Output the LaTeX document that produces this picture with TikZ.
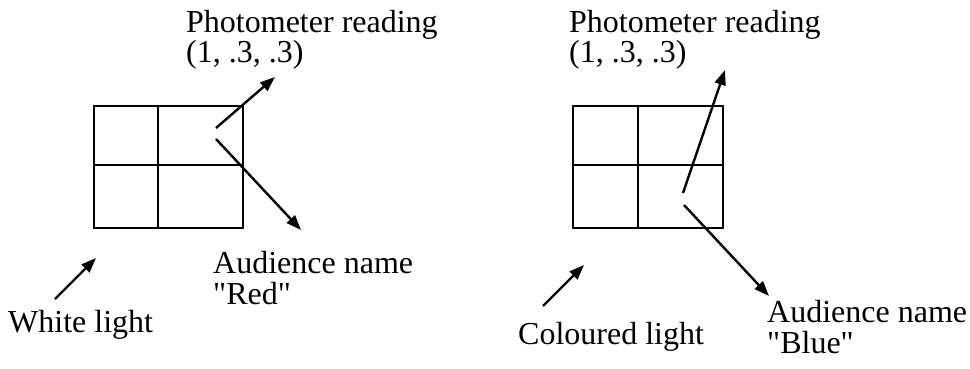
\documentclass[tikz,border=0pt]{standalone}
\usepackage{fontspec}
\setmainfont{Liberation Serif}[Ligatures=TeXOff]
\usetikzlibrary{arrows.meta}
\begin{document}
\begin{tikzpicture}[x=1pt,y=-1pt,
  lbl/.style={anchor=base west,inner sep=0pt,font=\fontsize{32pt}{32pt}\selectfont},
  grid/.style={line width=2.4pt},
  arr/.style={line width=2.4pt,-{Triangle[length=15pt,width=11pt]}}]
\useasboundingbox (0,0) rectangle (970,369);
% left grid
\draw[grid] (94,106) rectangle (243,228);
\draw[grid] (158,106) -- (158,228);
\draw[grid] (94,165) -- (243,165);
% right grid
\draw[grid] (573,106) rectangle (723,228);
\draw[grid] (638,106) -- (638,228);
\draw[grid] (573,165) -- (723,165);
% labels
\node[lbl] (pl1) at (186,33) {Photometer reading};
\node[lbl] (pl2) at (186,63) {(1, .3, .3)};
\node[lbl] (al1) at (213,273) {Audience name};
\node[lbl] (al2) at (213,304) {"Red"};
\node[lbl] (wl) at (8,332) {White light};
\node[lbl] (pr1) at (569,33) {Photometer reading};
\node[lbl] (pr2) at (569,63) {(1, .3, .3)};
\node[lbl] (ar1) at (767,322) {Audience name};
\node[lbl] (ar2) at (767,353) {"Blue"};
\node[lbl] (cl) at (518,344) {Coloured light};
% arrow end points
\coordinate (lu0) at (216,128); \coordinate (lu1) at (275,77);
\coordinate (ld0) at (216,139); \coordinate (ld1) at (301,230);
\coordinate (wl0) at (55,299); \coordinate (wl1) at (96,258);
\coordinate (ru0) at (683,193); \coordinate (ru1) at (725,70);
\coordinate (rd0) at (684,205); \coordinate (rd1) at (769,296);
\coordinate (cl0) at (543,306); \coordinate (cl1) at (584,265);
\draw[arr] (lu0) -- (lu1);
\draw[arr] (ld0) -- (ld1);
\draw[arr] (wl0) -- (wl1);
\draw[arr] (ru0) -- (ru1);
\draw[arr] (rd0) -- (rd1);
\draw[arr] (cl0) -- (cl1);
\end{tikzpicture}
\end{document}
